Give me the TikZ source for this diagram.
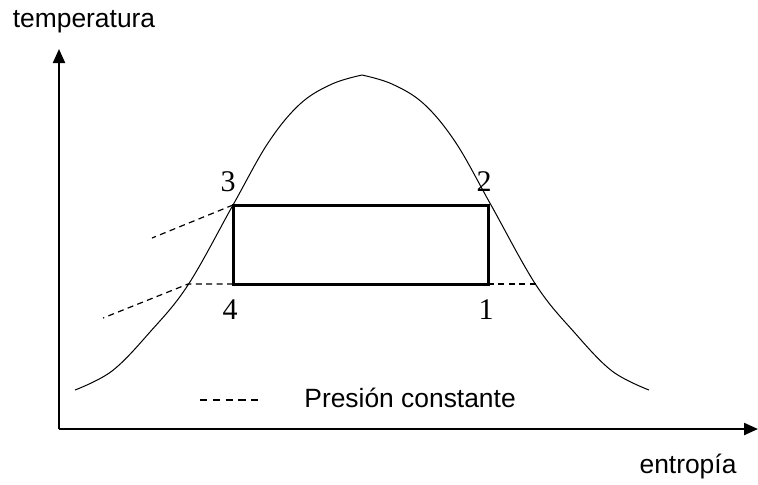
\documentclass[tikz,border=0pt]{standalone}
\usepackage{fontspec}
\setmainfont{Liberation Serif}
\newfontfamily\labelfont{Liberation Sans}
\usetikzlibrary{positioning, arrows.meta}

\begin{document}
\begin{tikzpicture}[x=0.5pt, y=-0.5pt,
   axis/.style={line width=1.1pt, -{Triangle[length=7pt, width=6pt]}},
   cycle/.style={line width=1.5pt},
   dome/.style={line width=0.5pt},
   isobar/.style={line width=0.6pt, dash pattern=on 3pt off 2.2pt},
   axislabel/.style={font=\labelfont\fontsize{13.2}{15}\selectfont, inner sep=0pt},
   statelabel/.style={font=\fontsize{15}{17}\selectfont, inner sep=0pt}]
   \useasboundingbox (0,0) rectangle (758,484);

   % ejes
   \coordinate (origin) at (59,429);
   \coordinate (ytop) at (59,49);
   \coordinate (xend) at (758,429);
   \draw[axis] (origin) -- (ytop);
   \draw[axis] (origin) -- (xend);
   \node[axislabel] (tlabel) at (84,22) {temperatura};
   \node[axislabel] (slabel) at (688,466) {entropía};

   % campana de saturacion
   \draw[dome] plot[smooth, tension=0.6] coordinates {(75,390) (112,371) (150,332) (188,285) (233,205) (268,143) (300,104) (332,84) (362,75)};
   \draw[dome] plot[smooth, tension=0.6] coordinates {(362,75) (392,84) (424,104) (456,143) (491,205) (536,285) (574,332) (612,371) (649,390)};

   % estados del ciclo
   \coordinate (s1) at (488,284);
   \coordinate (s2) at (488,205);
   \coordinate (s3) at (233,205);
   \coordinate (s4) at (233,284);
   \coordinate (sl) at (188,284);
   \coordinate (sr) at (536,284);
   \draw[cycle] (s4) -- (s3) -- (s2) -- (s1) -- cycle;

   % isobaras
   \coordinate (e3) at (152,238);
   \coordinate (e4) at (103,318);
   \draw[isobar] (s3) -- (e3);
   \draw[isobar] (s4) -- (sl) -- (e4);
   \draw[isobar] (s1) -- (sr);

   \node[statelabel] (n1) at (486,310) {1};
   \node[statelabel] (n2) at (484,182) {2};
   \node[statelabel] (n3) at (228,182) {3};
   \node[statelabel] (n4) at (230,310) {4};

   % leyenda
   \coordinate (la) at (200,400);
   \coordinate (lb) at (264,400);
   \draw[line width=0.6pt, dash pattern=on 3.6pt off 2.8pt] (la) -- (lb);
   \node[axislabel, anchor=west] (legend) at (304,398) {Presión constante};
\end{tikzpicture}
\end{document}
